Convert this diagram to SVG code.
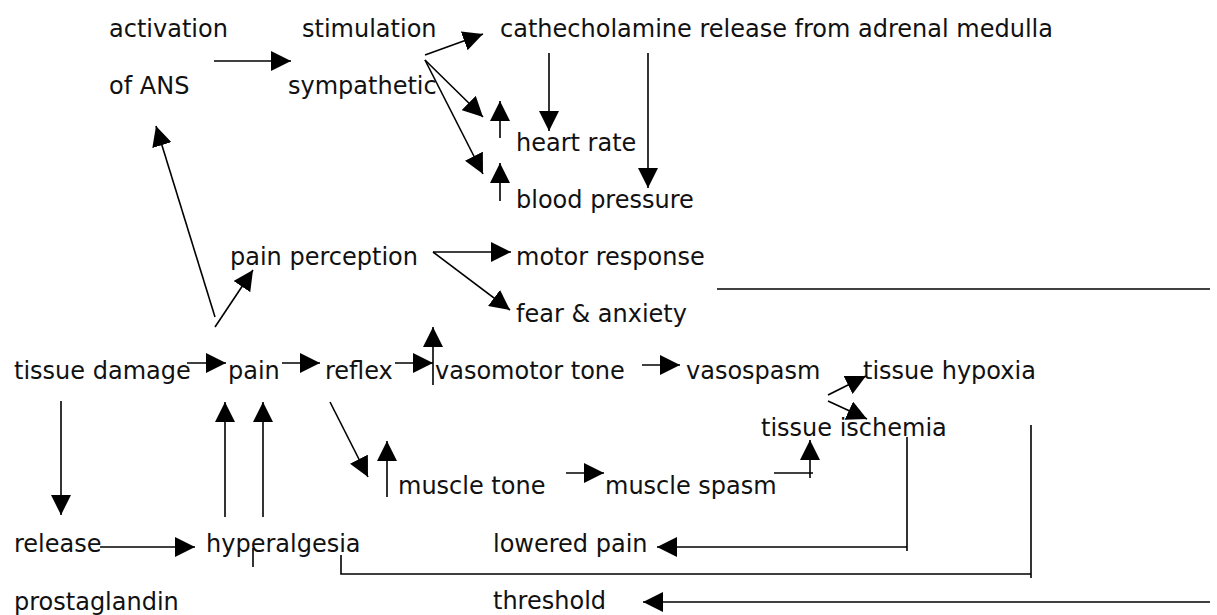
<svg xmlns="http://www.w3.org/2000/svg" width="1217" height="615" viewBox="0 0 1217 615">
<defs>
<marker id="ah" markerUnits="userSpaceOnUse" markerWidth="20" markerHeight="20" refX="20" refY="10" orient="auto">
<path d="M0,0 L20,10 L0,20 z" fill="#000"/>
</marker>
<style>
text{font-family:"DejaVu Sans","Liberation Sans",sans-serif;font-size:24px;fill:#111}
.c line,.c polyline{stroke:#000;stroke-width:1.6;fill:none}
.a{marker-end:url(#ah)}
</style>
</defs>
<rect width="1217" height="615" fill="#fff"/>
<g id="activation"><text x="109" y="37">activation</text><text x="109" y="94">of ANS</text></g>
<g id="sympathetic"><text x="302" y="37">stimulation</text><text x="288" y="94">sympathetic</text></g>
<g id="catecholamine"><text x="500" y="37">cathecholamine release from adrenal medulla</text></g>
<g id="heart-rate"><text x="516" y="151">heart rate</text></g>
<g id="blood-pressure"><text x="516" y="208">blood pressure</text></g>
<g id="pain-perception"><text x="230" y="265">pain perception</text></g>
<g id="motor-response"><text x="516" y="265">motor response</text></g>
<g id="fear-anxiety"><text x="516" y="322">fear &amp; anxiety</text></g>
<g id="tissue-damage"><text x="14" y="379">tissue damage</text></g>
<g id="pain"><text x="228" y="379">pain</text></g>
<g id="reflex"><text x="325" y="379">reflex</text></g>
<g id="vasomotor-tone"><text x="435" y="379">vasomotor tone</text></g>
<g id="vasospasm"><text x="686" y="379">vasospasm</text></g>
<g id="tissue-hypoxia"><text x="863" y="379">tissue hypoxia</text></g>
<g id="tissue-ischemia"><text x="761" y="436">tissue ischemia</text></g>
<g id="muscle-tone"><text x="398" y="494">muscle tone</text></g>
<g id="muscle-spasm"><text x="605" y="494">muscle spasm</text></g>
<g id="prostaglandin"><text x="14" y="552">release</text><text x="14" y="610">prostaglandin</text></g>
<g id="hyperalgesia"><text x="206" y="552">hyperalgesia</text></g>
<g id="lowered-threshold"><text x="493" y="552">lowered pain</text><text x="493" y="609">threshold</text></g>
<g id="connectors" class="c">
<line class="a" x1="214" y1="61" x2="291" y2="61"/>
<line class="a" x1="425" y1="55" x2="483" y2="34"/>
<line class="a" x1="425" y1="60" x2="483" y2="117"/>
<line class="a" x1="425" y1="60" x2="483" y2="174"/>
<line class="a" x1="500" y1="138" x2="500" y2="101"/>
<line class="a" x1="500" y1="201" x2="500" y2="163"/>
<line class="a" x1="549" y1="53" x2="549" y2="131"/>
<line class="a" x1="648" y1="53" x2="648" y2="188"/>
<line class="a" x1="215" y1="317" x2="156" y2="126"/>
<line class="a" x1="215" y1="327" x2="253" y2="270"/>
<line class="a" x1="433" y1="252" x2="511" y2="252"/>
<line class="a" x1="433" y1="252" x2="510" y2="310"/>
<line x1="717" y1="289" x2="1210" y2="289"/>
<line class="a" x1="187" y1="363" x2="226" y2="363"/>
<line class="a" x1="282" y1="363" x2="320" y2="363"/>
<line class="a" x1="395" y1="363" x2="433" y2="363"/>
<line class="a" x1="433" y1="385" x2="433" y2="327"/>
<line class="a" x1="642" y1="365" x2="680" y2="365"/>
<line class="a" x1="828" y1="395" x2="866" y2="376"/>
<line class="a" x1="828" y1="401" x2="867" y2="419"/>
<line class="a" x1="61" y1="401" x2="61" y2="515"/>
<line class="a" x1="100" y1="547" x2="195" y2="547"/>
<line class="a" x1="225" y1="517" x2="225" y2="402"/>
<line class="a" x1="263" y1="517" x2="263" y2="402"/>
<line class="a" x1="330" y1="402" x2="368" y2="477"/>
<line class="a" x1="387" y1="497" x2="387" y2="441"/>
<line class="a" x1="566" y1="473" x2="604" y2="473"/>
<line x1="774" y1="473" x2="813" y2="473"/>
<line class="a" x1="810" y1="478" x2="810" y2="440"/>
<line x1="907" y1="437" x2="907" y2="551"/>
<line class="a" x1="907" y1="547" x2="657" y2="547"/>
<line x1="253" y1="548" x2="253" y2="567"/>
<polyline points="341,555 341,574 1031,574"/>
<line x1="1031" y1="425" x2="1031" y2="578"/>
<line class="a" x1="1210" y1="602" x2="643" y2="602"/>
</g>
</svg>
